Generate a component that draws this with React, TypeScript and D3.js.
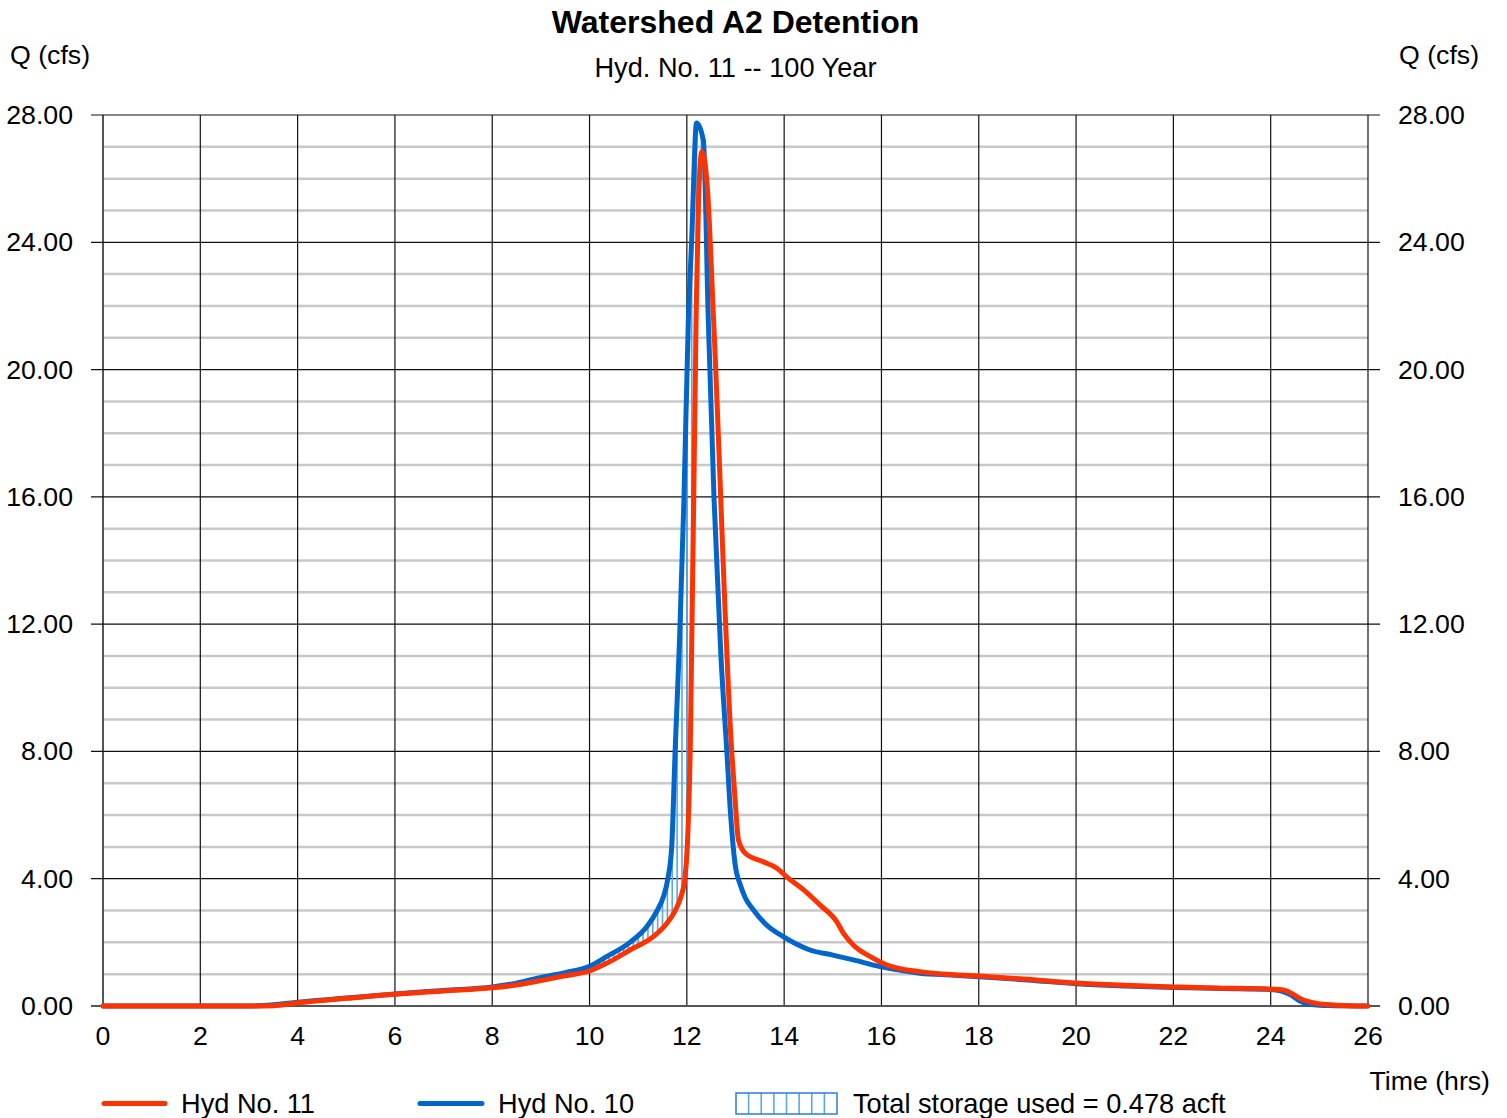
import React from 'react';
import * as d3 from 'd3';

// Hyd No. 10 — inflow hydrograph (hrs, cfs)
const inflowTime = [0, 2, 3.0, 3.5, 4, 5, 6, 7, 8, 8.5, 9, 9.5, 10, 10.35, 10.83, 11.18, 11.39, 11.52, 11.61, 11.69, 11.76, 11.85, 11.94, 12.03, 12.1, 12.2, 12.34, 12.44, 12.56, 12.7, 12.82, 12.9, 12.99, 13.1, 13.2, 13.37, 13.6, 13.98, 14.25, 14.53, 15.0, 15.42, 15.97, 16.4, 16.79, 17.5, 18, 19, 20, 21, 22, 23, 24, 24.2, 24.4, 24.6, 24.8, 25.0, 25.3, 26];
const inflowQ = [0, 0, 0, 0.04, 0.12, 0.25, 0.38, 0.49, 0.6, 0.72, 0.9, 1.05, 1.25, 1.55, 2.0, 2.5, 3.0, 3.44, 4.0, 5.03, 8.05, 11.5, 15.9, 21.5, 24.1, 27.75, 27.2, 21.6, 15.9, 11.0, 8.05, 6.0, 4.48, 3.8, 3.4, 3.02, 2.6, 2.18, 1.95, 1.76, 1.6, 1.45, 1.24, 1.12, 1.03, 0.97, 0.92, 0.82, 0.7, 0.63, 0.58, 0.55, 0.52, 0.48, 0.36, 0.16, 0.05, 0.02, 0.01, 0];

// Hyd No. 11 — routed outflow hydrograph (hrs, cfs)
const outflowTime = [0, 2, 3.0, 3.5, 4, 5, 6, 7, 8, 8.5, 9, 9.5, 10, 10.35, 10.83, 11.31, 11.59, 11.76, 11.88, 11.96, 12.01, 12.07, 12.19, 12.24, 12.31, 12.42, 12.55, 12.92, 13.0, 13.06, 13.2, 13.57, 13.85, 14.05, 14.4, 14.74, 15.08, 15.22, 15.42, 15.77, 16.11, 16.79, 17.5, 18, 19, 20, 21, 22, 23, 23.58, 24.0, 24.26, 24.45, 24.6, 24.8, 24.95, 25.3, 25.6, 26];
const outflowQ = [0, 0, 0, 0.01, 0.1, 0.24, 0.37, 0.47, 0.57, 0.66, 0.8, 0.95, 1.1, 1.34, 1.76, 2.18, 2.6, 3.0, 3.44, 4.0, 5.03, 8.05, 21.56, 25.3, 26.85, 25.75, 21.56, 8.05, 6.3, 5.22, 4.8, 4.53, 4.33, 4.06, 3.65, 3.17, 2.65, 2.28, 1.92, 1.55, 1.29, 1.08, 0.98, 0.94, 0.84, 0.72, 0.65, 0.6, 0.56, 0.55, 0.53, 0.5, 0.38, 0.24, 0.13, 0.08, 0.03, 0.01, 0];

const xTicks = [0, 2, 4, 6, 8, 10, 12, 14, 16, 18, 20, 22, 24, 26];
const yTicks = [0, 4, 8, 12, 16, 20, 24, 28];
const yMinorTicks = d3.range(0, 29).filter((v) => v % 4 !== 0);

const titleText = 'Watershed A2 Detention';
const subtitleText = 'Hyd. No. 11 -- 100 Year';
const legendLabels = ['Hyd No. 11', 'Hyd No. 10', 'Total storage used = 0.478 acft'];

const RED = '#ff3300';
const BLUE = '#0066cc';
const HATCH = '#5aa6ea';
const FONT = '"Liberation Sans", Arial, Helvetica, sans-serif';

const W = 1507;
const H = 1118;
const left = 103;
const right = 1368;
const top = 115;
const bottom = 1006;

function interp(ts: number[], qs: number[], t: number): number {
  const i = d3.bisectRight(ts, t);
  if (i <= 0) return qs[0];
  if (i >= ts.length) return qs[qs.length - 1];
  const t0 = ts[i - 1], t1 = ts[i];
  const f = (t - t0) / (t1 - t0);
  return qs[i - 1] + f * (qs[i] - qs[i - 1]);
}

export default function App() {
  const x = d3.scaleLinear().domain([0, 26]).range([left, right]);
  const y = d3.scaleLinear().domain([0, 28]).range([bottom, top]);

  const inflow = inflowTime.map((t, i) => [t, inflowQ[i]] as [number, number]);
  const outflow = outflowTime.map((t, i) => [t, outflowQ[i]] as [number, number]);

  const line = d3
    .line<[number, number]>()
    .x((d) => x(d[0]))
    .y((d) => y(d[1]))
    .curve(d3.curveMonotoneX);

  // storage hatch: vertical strokes where inflow exceeds outflow, every 0.1 hr
  const hatchTimes = d3.range(0, 26.001, 0.1).map((t) => Math.round(t * 10) / 10);
  const hatch = hatchTimes
    .map((t) => ({ t, qi: interp(inflowTime, inflowQ, t), qo: interp(outflowTime, outflowQ, t) }))
    .filter((d) => d.qi - d.qo > 0.02);

  const tickFont = 26.7;
  const textFont = 27.2;

  return (
    <svg
      width={W}
      height={H}
      viewBox={`0 0 ${W} ${H}`}
      style={{ position: 'absolute', left: 0, top: 0, background: '#fff' }}
      fontFamily={FONT}
    >
      <rect x={0} y={0} width={W} height={H} fill="#fff" />

      {/* minor horizontal grid */}
      {yMinorTicks.map((v) => (
        <line key={'m' + v} x1={left} x2={right} y1={y(v)} y2={y(v)} stroke="#c8c8c8" strokeWidth={2.5} />
      ))}

      {/* vertical grid */}
      {xTicks.map((v) => (
        <line
          key={'vx' + v}
          x1={x(v)}
          x2={x(v)}
          y1={top}
          y2={bottom}
          stroke={v === 0 ? '#555' : '#111'}
          strokeWidth={v === 0 ? 2 : 1.2}
        />
      ))}

      {/* major horizontal grid with ticks on both sides */}
      {yTicks.map((v) => (
        <line
          key={'my' + v}
          x1={left - 12}
          x2={right + 12}
          y1={y(v)}
          y2={y(v)}
          stroke={v === 0 ? '#555' : '#111'}
          strokeWidth={v === 0 ? 2 : 1.2}
        />
      ))}

      {/* storage hatch */}
      {hatch.map((d) => (
        <line key={'h' + d.t} x1={x(d.t)} x2={x(d.t)} y1={y(d.qo)} y2={y(d.qi)} stroke={HATCH} strokeWidth={1.6} />
      ))}

      {/* hydrographs */}
      <path d={line(inflow) || ''} fill="none" stroke={BLUE} strokeWidth={5} strokeLinejoin="round" strokeLinecap="round" />
      <path d={line(outflow) || ''} fill="none" stroke={RED} strokeWidth={5} strokeLinejoin="round" strokeLinecap="round" />

      {/* y tick labels */}
      {yTicks.map((v) => (
        <g key={'yl' + v}>
          <text x={73} y={y(v) + 9} textAnchor="end" fontSize={tickFont} fill="#000">
            {v.toFixed(2)}
          </text>
          <text x={1398} y={y(v) + 9} textAnchor="start" fontSize={tickFont} fill="#000">
            {v.toFixed(2)}
          </text>
        </g>
      ))}

      {/* x tick labels */}
      {xTicks.map((v) => (
        <text key={'xl' + v} x={x(v)} y={1045} textAnchor="middle" fontSize={tickFont} fill="#000">
          {v}
        </text>
      ))}

      {/* titles */}
      <text x={(left + right) / 2} y={33} textAnchor="middle" fontSize={32} fontWeight="bold" fill="#000">
        {titleText}
      </text>
      <text x={(left + right) / 2} y={77} textAnchor="middle" fontSize={textFont} fill="#000">
        {subtitleText}
      </text>
      <text x={10} y={64} fontSize={tickFont} fill="#000">Q (cfs)</text>
      <text x={1399} y={64} fontSize={tickFont} fill="#000">Q (cfs)</text>
      <text x={1490} y={1090} textAnchor="end" fontSize={tickFont} fill="#000">Time (hrs)</text>

      {/* legend */}
      <line x1={104} x2={165} y1={1103.5} y2={1103.5} stroke={RED} strokeWidth={5} strokeLinecap="round" />
      <text x={181} y={1113} fontSize={textFont} fill="#000">{legendLabels[0]}</text>
      <line x1={420} x2={482} y1={1103.5} y2={1103.5} stroke={BLUE} strokeWidth={5} strokeLinecap="round" />
      <text x={498} y={1113} fontSize={textFont} fill="#000">{legendLabels[1]}</text>
      {d3.range(1, 8).map((i) => (
        <line
          key={'lh' + i}
          x1={736 + (i * 101) / 8}
          x2={736 + (i * 101) / 8}
          y1={1093}
          y2={1114}
          stroke={HATCH}
          strokeWidth={1.6}
        />
      ))}
      <rect x={736} y={1093} width={101} height={21} fill="none" stroke="#2a7fd4" strokeWidth={1.5} />
      <text x={853} y={1113} fontSize={textFont} fill="#000">{legendLabels[2]}</text>
    </svg>
  );
}
